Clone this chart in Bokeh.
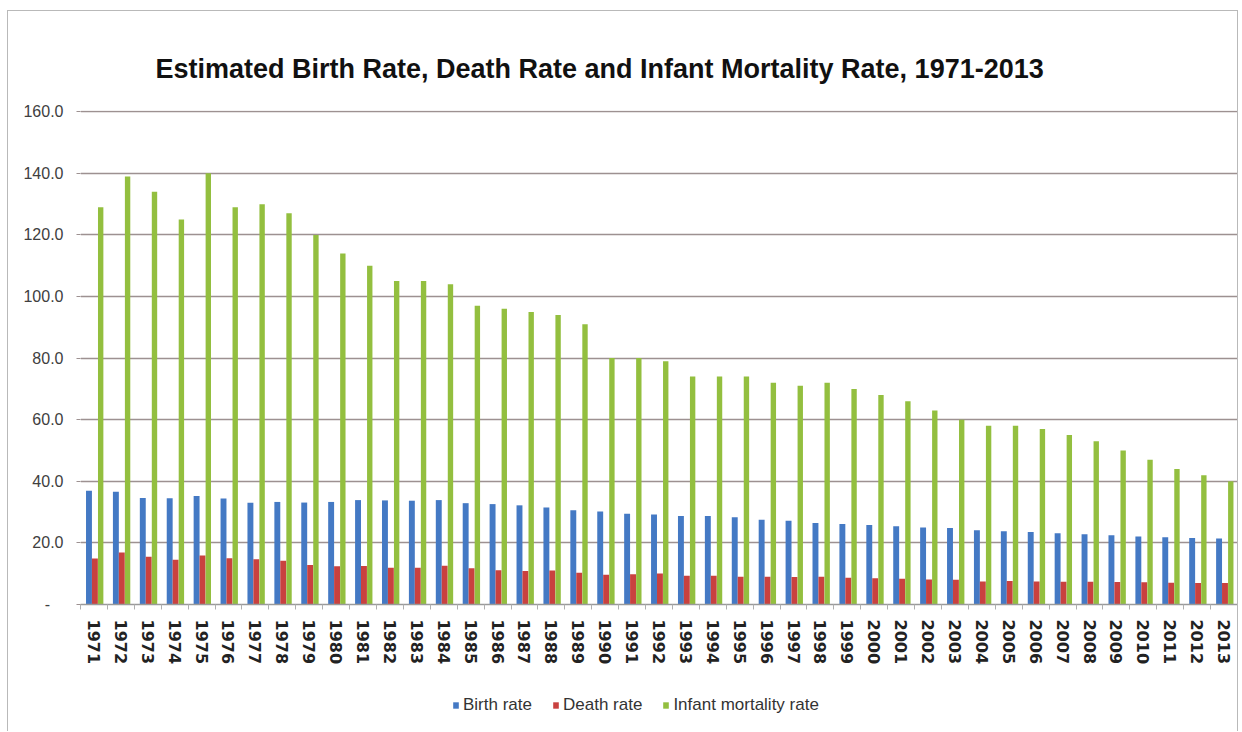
from bokeh.plotting import figure
from bokeh.layouts import column
from bokeh.models import (Range1d, FixedTicker, Legend, LegendItem,
                          ColumnDataSource, NumeralTickFormatter)
from bokeh.transform import dodge
from bokeh.embed import file_html
from bokeh.resources import INLINE

# ---------------- data ----------------
years = ["1971", "1972", "1973", "1974", "1975", "1976", "1977", "1978", "1979", "1980",
         "1981", "1982", "1983", "1984", "1985", "1986", "1987", "1988", "1989", "1990",
         "1991", "1992", "1993", "1994", "1995", "1996", "1997", "1998", "1999", "2000",
         "2001", "2002", "2003", "2004", "2005", "2006", "2007", "2008", "2009", "2010",
         "2011", "2012", "2013"]

birth_rate = [36.9, 36.6, 34.6, 34.5, 35.2, 34.4, 33.0, 33.3, 33.1, 33.3,
              33.9, 33.8, 33.7, 33.9, 32.9, 32.6, 32.2, 31.5, 30.6, 30.2,
              29.5, 29.2, 28.7, 28.7, 28.3, 27.5, 27.2, 26.5, 26.1, 25.8,
              25.4, 25.0, 24.8, 24.1, 23.8, 23.5, 23.1, 22.8, 22.5, 22.1,
              21.8, 21.6, 21.4]

death_rate = [14.9, 16.9, 15.5, 14.5, 15.9, 15.0, 14.7, 14.2, 12.8, 12.4,
              12.5, 11.9, 11.9, 12.6, 11.8, 11.1, 10.9, 11.0, 10.3, 9.7,
              9.8, 10.1, 9.3, 9.3, 9.0, 9.0, 8.9, 9.0, 8.7, 8.5,
              8.4, 8.1, 8.0, 7.5, 7.6, 7.5, 7.4, 7.4, 7.3, 7.2,
              7.1, 7.0, 7.0]

infant_mortality = [129, 139, 134, 125, 140, 129, 130, 127, 120, 114,
                    110, 105, 105, 104, 97, 96, 95, 94, 91, 80,
                    80, 79, 74, 74, 74, 72, 71, 72, 70, 68,
                    66, 63, 60, 58, 58, 57, 55, 53, 50, 47,
                    44, 42, 40]

y_ticks = [0, 20, 40, 60, 80, 100, 120, 140, 160]
series_names = ["Birth rate", "Death rate", "Infant mortality rate"]
colors = ["#4479c4", "#c9413f", "#93bf3f"]

title_text = "Estimated Birth Rate, Death Rate and Infant Mortality Rate, 1971-2013"

# ---------------- main chart ----------------
n = len(years)
centers = [i + 0.5 for i in range(n)]
src = ColumnDataSource(dict(x=centers, birth=birth_rate, death=death_rate,
                            imr=infant_mortality, year=years))

p = figure(width=1229, height=669,
           x_range=Range1d(0, n), y_range=Range1d(0, 160.4),
           output_backend="svg", toolbar_location=None,
           min_border_left=72, min_border_right=0,
           min_border_top=99, min_border_bottom=76,
           background_fill_color="white", border_fill_color="white")
p.outline_line_color = None

# title
p.title.text = title_text
p.title.align = "left"
p.title.offset = 75
p.title.text_font = "Liberation Sans"
p.title.text_font_style = "bold"
p.title.text_font_size = "27px"
p.title.text_color = "#111111"
p.title.standoff = 53

bw = 0.22
p.vbar(x=dodge("x", -0.185, range=p.x_range), top="birth", width=bw,
       source=src, fill_color=colors[0], line_color=None)
p.vbar(x=dodge("x", 0.035, range=p.x_range), top="death", width=bw,
       source=src, fill_color=colors[1], line_color=None)
p.vbar(x=dodge("x", 0.25, range=p.x_range), top="imr", width=0.2,
       source=src, fill_color=colors[2], line_color=None)

# grid
p.xgrid.visible = False
p.ygrid.ticker = FixedTicker(ticks=y_ticks)
p.ygrid.grid_line_color = "#9d9191"
p.ygrid.grid_line_width = 1.5

# y axis
p.yaxis.ticker = FixedTicker(ticks=y_ticks)
p.yaxis.formatter = NumeralTickFormatter(format="0.0")
p.yaxis.major_label_overrides = {0: "-\u00a0\u00a0\u00a0"}
p.yaxis.axis_line_color = None
p.yaxis.major_tick_out = 4
p.yaxis.major_tick_in = 0
p.yaxis.major_tick_line_color = "#9d9191"
p.yaxis.minor_tick_line_color = None
p.yaxis.major_label_standoff = 13
p.yaxis.major_label_text_font = "Liberation Sans"
p.yaxis.major_label_text_font_size = "16px"
p.yaxis.major_label_text_color = "#404040"

# x axis
p.xaxis.ticker = FixedTicker(ticks=centers, minor_ticks=list(range(n + 1)))
p.xaxis.major_label_overrides = {c: y for c, y in zip(centers, years)}
p.xaxis.major_label_orientation = "vertical"
p.xaxis.axis_line_color = "#9a9a9a"
p.xaxis.axis_line_width = 1.5
p.xaxis.major_tick_line_color = None
p.xaxis.major_tick_out = 0
p.xaxis.major_tick_in = 0
p.xaxis.minor_tick_line_color = "#b0b0b0"
p.xaxis.minor_tick_out = 5
p.xaxis.minor_tick_in = 0
p.xaxis.major_label_standoff = 10
p.xaxis.major_label_text_font = "DejaVu Sans"
p.xaxis.major_label_text_font_style = "bold"
p.xaxis.major_label_text_font_size = "16px"
p.xaxis.major_label_text_color = "#222222"

# ---------------- legend strip ----------------
lg = figure(width=1229, height=51, x_range=Range1d(0, 1), y_range=Range1d(0, 1),
            output_backend="svg", toolbar_location=None,
            min_border_left=0, min_border_right=0, min_border_top=0,
            min_border_bottom=0, background_fill_color="white",
            border_fill_color="white")
lg.outline_line_color = None
lg.xaxis.visible = False
lg.yaxis.visible = False
lg.grid.visible = False
items = []
for name, c in zip(series_names, colors):
    # zero-height swatch renderer: only its style is used by the legend
    r = lg.vbar(x=[0.5], top=[0], bottom=[0], width=0.0, fill_color=c,
                line_color=None)
    items.append(LegendItem(label=name, renderers=[r]))
legend = Legend(items=items, orientation="horizontal", location=(372, 16),
                glyph_width=7, glyph_height=8, label_standoff=4, spacing=20,
                padding=0, margin=0, border_line_color=None,
                background_fill_alpha=0,
                label_text_font="Liberation Sans", label_text_font_size="17px",
                label_text_color="#333333")
lg.add_layout(legend)

layout = column(p, lg, spacing=0,
                styles={"border": "1px solid #b9b9b9", "border-bottom": "none",
                        "margin-top": "10px", "margin-left": "7px"})

open("out.html", "w").write(file_html(layout, INLINE))
